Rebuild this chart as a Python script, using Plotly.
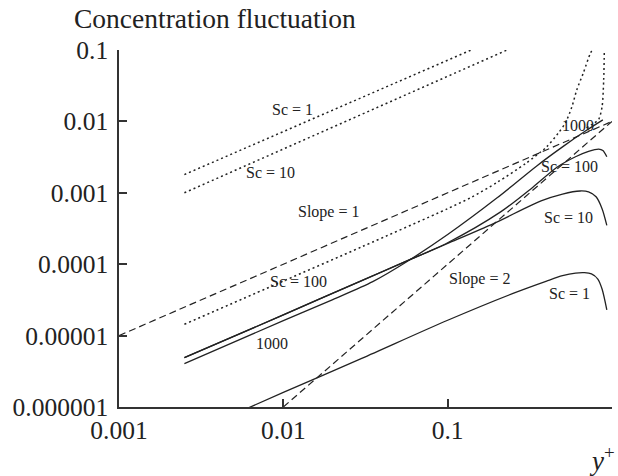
import math
import plotly.graph_objects as go

# ---------------- data ----------------
x_ticks = [0.001, 0.01, 0.1, 1]
x_ticklabels = ["0.001", "0.01", "0.1", "1"]
y_ticks = [1e-6, 1e-5, 1e-4, 1e-3, 1e-2, 1e-1]
y_ticklabels = ["0.000001", "0.00001", "0.0001", "0.001", "0.01", "0.1"]

# dotted curves
dot_sc1_x = [0.0025, 0.139]
dot_sc1_y = [0.0018, 0.1]
dot_sc10_x = [0.0025, 0.23]
dot_sc10_y = [0.001, 0.1]
dot_sc100_x = [0.0025, 0.01, 0.03, 0.1, 0.14, 0.2, 0.3, 0.4, 0.47, 0.52, 0.57, 0.61, 0.67, 0.74, 0.76]
dot_sc100_y = [1.44e-5, 5.8e-5, 1.75e-4, 6.0e-4, 8.7e-4, 1.4e-3, 2.6e-3, 4.4e-3, 6.8e-3, 9.5e-3, 0.016, 0.0275, 0.048, 0.091, 0.1]
dot_sc1000_x = [0.70, 0.78, 0.83, 0.87, 0.89, 0.898]
dot_sc1000_y = [0.0081, 0.0095, 0.0107, 0.016, 0.038, 0.1]

# dashed reference slopes
slope1_x = [0.001, 1.0]
slope1_y = [1e-5, 0.01]
slope2_x = [0.01, 1.0]
slope2_y = [1e-6, 0.01]

# solid curves
sol_sc1_x = [0.0025, 0.01, 0.03, 0.1, 0.25, 0.4, 0.5, 0.6, 0.68, 0.75, 0.82, 0.87, 0.93]
sol_sc1_y = [3.9e-7, 1.6e-6, 4.8e-6, 1.64e-5, 3.9e-5, 5.8e-5, 6.9e-5, 7.5e-5, 7.6e-5, 7.3e-5, 6.2e-5, 4.5e-5, 2.3e-5]
sol_sc10_x = [0.0025, 0.01, 0.03, 0.057, 0.1, 0.19, 0.37, 0.5, 0.64, 0.72, 0.8, 0.87, 0.93]
sol_sc10_y = [4.9e-6, 1.95e-5, 5.9e-5, 1.12e-4, 1.95e-4, 3.7e-4, 7.7e-4, 9.6e-4, 1.06e-3, 1.03e-3, 8.8e-4, 6.0e-4, 3.5e-4]
sol_sc100_x = [0.0025, 0.01, 0.03, 0.057, 0.1, 0.21, 0.33, 0.465, 0.6, 0.72, 0.83, 0.88, 0.93]
sol_sc100_y = [4.9e-6, 1.95e-5, 5.9e-5, 1.12e-4, 2.0e-4, 5.4e-4, 1.2e-3, 2.3e-3, 3.2e-3, 3.8e-3, 4.1e-3, 3.9e-3, 3.2e-3]
sol_sc1000_x = [0.0025, 0.01, 0.02, 0.035, 0.057, 0.1, 0.2, 0.35, 0.5, 0.7, 0.88]
sol_sc1000_y = [4.05e-6, 1.62e-5, 3.2e-5, 5.7e-5, 1.1e-4, 2.6e-4, 8.5e-4, 2.4e-3, 4.4e-3, 7.5e-3, 1.05e-2]

# curve labels
label_text = ["Sc = 1", "Sc = 10", "Slope = 1", "Sc = 100", "1000",
              "Slope = 2", "Sc = 1", "Sc = 10", "Sc = 100", "1000"]
label_x = [0.0113, 0.0084, 0.0187, 0.0124, 0.0085,
           0.157, 0.555, 0.540, 0.555, 0.621]
label_y = [0.01445, 0.00195, 0.000538, 5.64e-5, 7.87e-6,
           6.21e-5, 3.83e-5, 0.000444, 0.0023, 0.0089]

# ---------------- figure ----------------
INK = "#222222"
FONT = "Liberation Serif"

fig = go.Figure()

def add_line(x, y, dash, width, shape="spline"):
    fig.add_trace(go.Scatter(
        x=x, y=y, mode="lines",
        line=dict(color=INK, width=width, dash=dash, shape=shape, smoothing=0.8),
        hoverinfo="skip", showlegend=False))

add_line(dot_sc1_x, dot_sc1_y, "2px,3px", 1.5, "linear")
add_line(dot_sc10_x, dot_sc10_y, "2px,3px", 1.5, "linear")
add_line(dot_sc100_x, dot_sc100_y, "2px,3px", 1.5)
add_line(dot_sc1000_x, dot_sc1000_y, "2px,3px", 1.5)
add_line(slope1_x, slope1_y, "7px,4px", 1.2, "linear")
add_line(slope2_x, slope2_y, "7px,4px", 1.2, "linear")
add_line(sol_sc1_x, sol_sc1_y, "solid", 1.3)
add_line(sol_sc10_x, sol_sc10_y, "solid", 1.3)
add_line(sol_sc100_x, sol_sc100_y, "solid", 1.3)
add_line(sol_sc1000_x, sol_sc1000_y, "solid", 1.3)

annotations = []
for t, lx, ly in zip(label_text, label_x, label_y):
    annotations.append(dict(
        x=math.log10(lx), y=math.log10(ly), xref="x", yref="y",
        text=t, showarrow=False, xanchor="center", yanchor="middle",
        font=dict(family=FONT, size=16, color=INK)))

annotations.append(dict(
    x=-0.0953, y=1.0896, xref="paper", yref="paper",
    text="Concentration fluctuation", showarrow=False,
    xanchor="left", yanchor="middle",
    font=dict(family=FONT, size=27.5, color=INK)))
annotations.append(dict(
    x=1.0101, y=-0.145, xref="paper", yref="paper",
    text="<i>y</i><sup>+</sup>", showarrow=False,
    xanchor="right", yanchor="middle",
    font=dict(family=FONT, size=27, color=INK)))

axis_common = dict(
    type="log", showgrid=False, zeroline=False,
    showline=True, linecolor="#333333", linewidth=1.5,
    ticks="inside", ticklen=8, tickwidth=1.5, tickcolor="#333333",
    tickfont=dict(family=FONT, size=25.5, color=INK),
)

fig.update_layout(
    width=618, height=476,
    margin=dict(l=119, r=6, t=50, b=69),
    paper_bgcolor="white", plot_bgcolor="white",
    showlegend=False,
    xaxis=dict(range=[-3, 0], tickvals=x_ticks, ticktext=x_ticklabels,
               ticklabelstandoff=0, **axis_common),
    yaxis=dict(range=[-6, -1], tickvals=y_ticks, ticktext=y_ticklabels,
               ticklabelstandoff=4, **axis_common),
    annotations=annotations,
)

fig.write_html("out.html")
